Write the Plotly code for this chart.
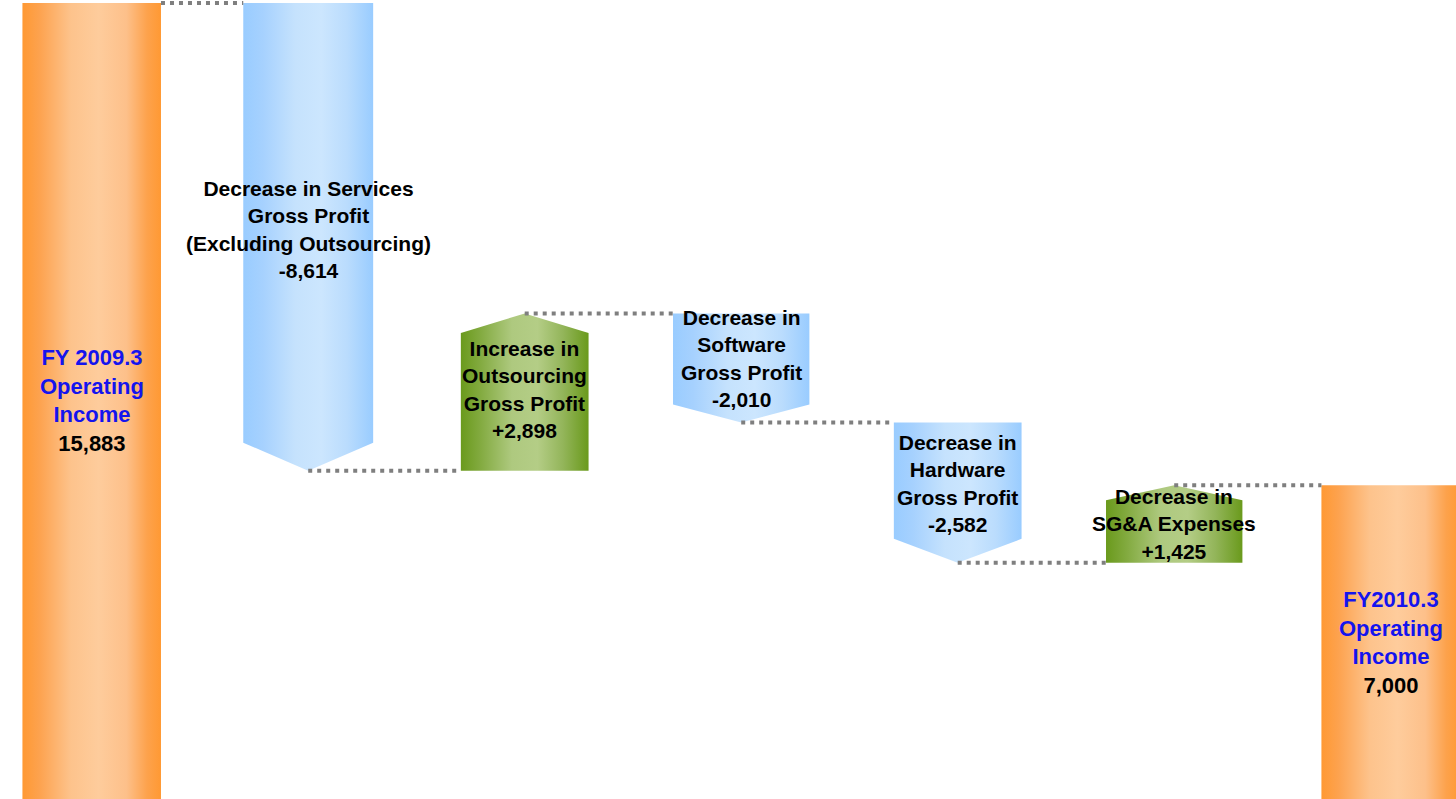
import plotly.graph_objects as go

# ---------------- data ----------------
categories = ["FY2009.3", "Services", "Outsourcing", "Software", "Hardware", "SG&A", "FY2010.3"]
kinds = ["total", "relative", "relative", "relative", "relative", "relative", "total"]
values = [15883, -8614, 2898, -2010, -2582, 1425, 7000]
label_texts = [
    "FY 2009.3<br>Operating<br>Income",
    "Decrease in Services<br>Gross Profit<br>(Excluding Outsourcing)",
    "Increase in<br>Outsourcing<br>Gross Profit",
    "Decrease in<br>Software<br>Gross Profit",
    "Decrease in<br>Hardware<br>Gross Profit",
    "Decrease in<br>SG&amp;A Expenses",
    "FY2010.3<br>Operating<br>Income",
]

# ---------------- style ----------------
Y_RANGE = [1224, 15938]
X_RANGE = [-0.4236, 6.3016]
widths = [0.64, 0.60, 0.59, 0.63, 0.59, 0.63, 0.64]
head = [0, 516, 360, 330, 440, 276, 0]
label_shift = [0, -7, -3, -9, -9, 0, 0]

orange_cs = [[0, "#FF9933"], [0.12, "#FDA24E"], [0.35, "#FDC38C"], [0.55, "#FECC9C"],
             [0.75, "#FDC08A"], [0.9, "#FDA24C"], [1, "#FF9933"]]
blue_cs = [[0, "#99CCFF"], [0.15, "#A6D1FE"], [0.4, "#C5E2FD"], [0.6, "#CCE6FE"],
           [0.8, "#BADCFD"], [1, "#99CCFF"]]
green_cs = [[0, "#6A9A1C"], [0.15, "#82AA3F"], [0.4, "#AEC97F"], [0.6, "#B4CD86"],
            [0.8, "#93B55A"], [1, "#6A9A1C"]]

fig = go.Figure()

# compute levels
levels = []
running = 0
for k, v in zip(kinds, values):
    if k == "total":
        start, end = 0, v
        running = v
    else:
        start, end = running, running + v
        running = end
    levels.append((start, end))

for i, ((s, e), k, v) in enumerate(zip(levels, kinds, values)):
    x0 = i - widths[i] / 2
    x1 = i + widths[i] / 2
    if k == "total":
        xs = [x0, x1, x1, x0, x0]
        ys = [s, s, e, e, s]
        cs = orange_cs
    elif v < 0:
        h = head[i]
        xs = [x0, x1, x1, i, x0, x0]
        ys = [s, s, e + h, e, e + h, s]
        cs = blue_cs
    else:
        h = head[i]
        xs = [x0, x1, x1, i, x0, x0]
        ys = [s, s, e - h, e, e - h, s]
        cs = green_cs
    fig.add_trace(go.Scatter(
        x=xs, y=ys, mode="lines", fill="toself",
        line=dict(width=0, color="rgba(0,0,0,0)"),
        fillgradient=dict(type="horizontal", colorscale=cs),
        hoverinfo="skip", showlegend=False,
    ))

# connectors
for i in range(len(values) - 1):
    s, e = levels[i]
    if kinds[i] == "total":
        xa = i + widths[i] / 2
    else:
        xa = i
    xb = (i + 1) - widths[i + 1] / 2
    fig.add_trace(go.Scatter(
        x=[xa, xb], y=[e, e], mode="lines",
        line=dict(color="#7F7F7F", width=4, dash="4px,5px"),
        hoverinfo="skip", showlegend=False,
    ))

# labels
for i, ((s, e), k, v) in enumerate(zip(levels, kinds, values)):
    if k == "total":
        lo = max(s, Y_RANGE[0])
        yc = (lo + e) / 2
        txt = (f"<b><span style='color:#1414EE'>{label_texts[i]}</span><br>{v:,}</b>")
        size = 22
    else:
        yc = (s + e) / 2
        txt = f"<b>{label_texts[i]}<br>{v:+,}</b>"
        size = 21
    fig.add_annotation(
        x=i, y=yc, text=txt, showarrow=False, yshift=-label_shift[i] * -1 if False else label_shift[i] * -1,
        font=dict(family="Liberation Sans, Arial, sans-serif", size=size, color="#000000"),
        align="center", xanchor="center", yanchor="middle",
    )

fig.update_layout(
    width=1456, height=799,
    margin=dict(l=0, r=0, t=0, b=0),
    paper_bgcolor="white", plot_bgcolor="white",
    xaxis=dict(range=X_RANGE, visible=False, fixedrange=True),
    yaxis=dict(range=Y_RANGE, visible=False, fixedrange=True),
    showlegend=False,
)

fig.write_html("out.html", config={"displayModeBar": False})
